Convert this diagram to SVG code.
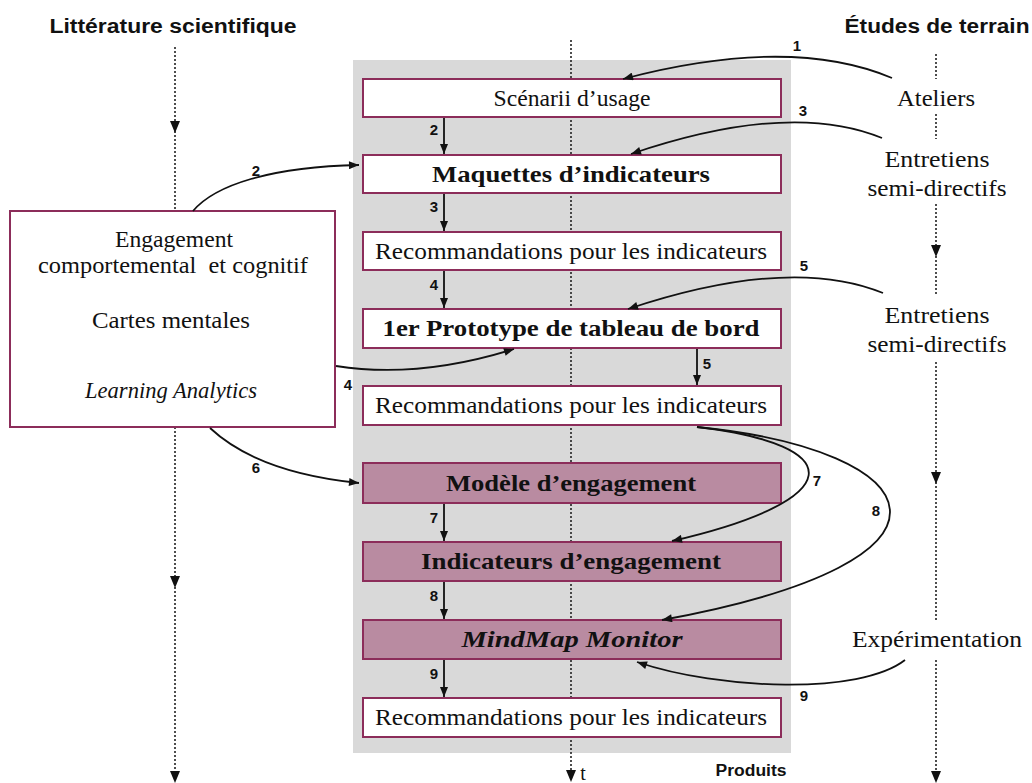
<svg xmlns="http://www.w3.org/2000/svg" width="1032" height="783" viewBox="0 0 1032 783">
<defs>
<marker id="ah" viewBox="0 0 10 8" refX="10" refY="4" markerWidth="11" markerHeight="8" markerUnits="userSpaceOnUse" orient="auto">
<path d="M0,0 L10,4 L0,8 z" fill="#111"/>
</marker>
<style>
.box{fill:#fff;stroke:#8c2d5a;stroke-width:2}
.pbox{fill:#b98ba1;stroke:#8c2d5a;stroke-width:2}
.t{font-family:"Liberation Serif",serif;font-size:24px;fill:#111;text-anchor:middle}
.b{font-weight:bold}
.i{font-style:italic}
.h{font-family:"Liberation Sans",sans-serif;font-weight:bold;font-size:20px;fill:#111}
.n{font-family:"Liberation Sans",sans-serif;font-weight:bold;font-size:15px;fill:#111;text-anchor:middle}
.c{fill:none;stroke:#111;stroke-width:1.8}
.d{fill:none;stroke:#222;stroke-width:1.6;stroke-dasharray:2 2}
.tri{fill:#111}
</style>
</defs>
<rect id="panel" x="353" y="60" width="438" height="693" fill="#d9d9d9"/>
<g id="timelines">
<path class="d" d="M175,47 V211 M175,427 V778"/>
<path class="d" d="M571,40 V778"/>
<path class="d" d="M936,54 V79 M936,114 V139 M936,204 V294 M936,362 V622 M936,660 V778"/>
<polygon class="tri" points="170,121 180,121 175,133"/>
<polygon class="tri" points="170,576 180,576 175,588"/>
<polygon class="tri" points="170,771 180,771 175,783"/>
<polygon class="tri" points="566,770 576,770 571,782"/>
<polygon class="tri" points="931,245 941,245 936,257"/>
<polygon class="tri" points="931,472 941,472 936,484"/>
<polygon class="tri" points="931,771 941,771 936,783"/>
</g>
<text class="h" x="173" y="33" text-anchor="middle" textLength="247" lengthAdjust="spacingAndGlyphs">Littérature scientifique</text>
<text class="h" x="937" y="33" text-anchor="middle" textLength="185" lengthAdjust="spacingAndGlyphs">Études de terrain</text>
<text class="n" x="751" y="776" style="font-size:16px" textLength="71" lengthAdjust="spacingAndGlyphs">Produits</text>
<text class="t" x="583" y="780" text-anchor="start" style="font-size:20px">t</text>
<g id="n-litt">
<rect class="box" x="10" y="211" width="325" height="216"/>
<text class="t" x="174" y="247" textLength="118" lengthAdjust="spacingAndGlyphs">Engagement</text>
<text class="t" x="173" y="273" xml:space="preserve" textLength="270" lengthAdjust="spacingAndGlyphs">comportemental  et cognitif</text>
<text class="t" x="171" y="328" textLength="158" lengthAdjust="spacingAndGlyphs">Cartes mentales</text>
<text class="t i" x="171" y="398" textLength="172" lengthAdjust="spacingAndGlyphs">Learning Analytics</text>
</g>
<g id="n1"><rect class="box" x="363" y="79" width="418" height="38"/><text class="t" x="572" y="106" textLength="157" lengthAdjust="spacingAndGlyphs">Scénarii d’usage</text></g>
<g id="n2"><rect class="box" x="363" y="155" width="418" height="38"/><text class="t b" x="571" y="182" textLength="278" lengthAdjust="spacingAndGlyphs">Maquettes d’indicateurs</text></g>
<g id="n3"><rect class="box" x="363" y="232" width="418" height="38"/><text class="t" x="571" y="259" textLength="392" lengthAdjust="spacingAndGlyphs">Recommandations pour les indicateurs</text></g>
<g id="n4"><rect class="box" x="363" y="309" width="418" height="39"/><text class="t b" x="571" y="336" textLength="377" lengthAdjust="spacingAndGlyphs">1er Prototype de tableau de bord</text></g>
<g id="n5"><rect class="box" x="363" y="386" width="418" height="39"/><text class="t" x="571" y="413" textLength="392" lengthAdjust="spacingAndGlyphs">Recommandations pour les indicateurs</text></g>
<g id="n6"><rect class="pbox" x="363" y="463" width="418" height="40"/><text class="t b" x="571" y="491" textLength="250" lengthAdjust="spacingAndGlyphs">Modèle d’engagement</text></g>
<g id="n7"><rect class="pbox" x="363" y="542" width="418" height="39"/><text class="t b" x="571" y="569" textLength="300" lengthAdjust="spacingAndGlyphs">Indicateurs d’engagement</text></g>
<g id="n8"><rect class="pbox" x="363" y="620" width="418" height="39"/><text class="t b i" x="572" y="647" textLength="221" lengthAdjust="spacingAndGlyphs">MindMap Monitor</text></g>
<g id="n9"><rect class="box" x="363" y="698" width="418" height="39"/><text class="t" x="571" y="725" textLength="392" lengthAdjust="spacingAndGlyphs">Recommandations pour les indicateurs</text></g>
<g id="n-ateliers"><text class="t" x="936" y="106" textLength="78" lengthAdjust="spacingAndGlyphs">Ateliers</text></g>
<g id="n-entretiens1"><text class="t" x="937" y="167" textLength="105" lengthAdjust="spacingAndGlyphs">Entretiens</text><text class="t" x="937" y="196" textLength="139" lengthAdjust="spacingAndGlyphs">semi-directifs</text></g>
<g id="n-entretiens2"><text class="t" x="937" y="323" textLength="105" lengthAdjust="spacingAndGlyphs">Entretiens</text><text class="t" x="937" y="352" textLength="139" lengthAdjust="spacingAndGlyphs">semi-directifs</text></g>
<g id="n-experimentation"><text class="t" x="937" y="647" textLength="170" lengthAdjust="spacingAndGlyphs">Expérimentation</text></g>
<g id="connectors">
<path class="c" marker-end="url(#ah)" d="M444,118 V154"/>
<path class="c" marker-end="url(#ah)" d="M444,194 V231"/>
<path class="c" marker-end="url(#ah)" d="M444,271 V308"/>
<path class="c" marker-end="url(#ah)" d="M697,349 V385"/>
<path class="c" marker-end="url(#ah)" d="M444,504 V541"/>
<path class="c" marker-end="url(#ah)" d="M444,582 V619"/>
<path class="c" marker-end="url(#ah)" d="M444,660 V697"/>
<path class="c" marker-end="url(#ah)" d="M892,78 Q790,35 623,79"/>
<path class="c" marker-end="url(#ah)" d="M882,138 Q790,100 631,154"/>
<path class="c" marker-end="url(#ah)" d="M883,293 Q790,255 628,309"/>
<path class="c" marker-end="url(#ah)" d="M193,211 C215,185 270,167 359,165"/>
<path class="c" marker-end="url(#ah)" d="M336,366 C400,376 460,366 514,349"/>
<path class="c" marker-end="url(#ah)" d="M210,428 C240,456 290,476 359,483"/>
<path class="c" marker-end="url(#ah)" d="M697,427 C850,445 850,500 672,541"/>
<path class="c" marker-end="url(#ah)" d="M697,427 C930,450 990,560 662,620"/>
<path class="c" marker-end="url(#ah)" d="M905,660 C860,695 720,690 637,662"/>
<text class="n" x="434" y="135">2</text>
<text class="n" x="434" y="212">3</text>
<text class="n" x="434" y="290">4</text>
<text class="n" x="707" y="369">5</text>
<text class="n" x="434" y="523">7</text>
<text class="n" x="434" y="601">8</text>
<text class="n" x="434" y="679">9</text>
<text class="n" x="797" y="51">1</text>
<text class="n" x="803" y="116">3</text>
<text class="n" x="804" y="271">5</text>
<text class="n" x="256" y="176">2</text>
<text class="n" x="348" y="390">4</text>
<text class="n" x="256" y="473">6</text>
<text class="n" x="817" y="486">7</text>
<text class="n" x="876" y="516">8</text>
<text class="n" x="804" y="701">9</text>
</g>
</svg>
